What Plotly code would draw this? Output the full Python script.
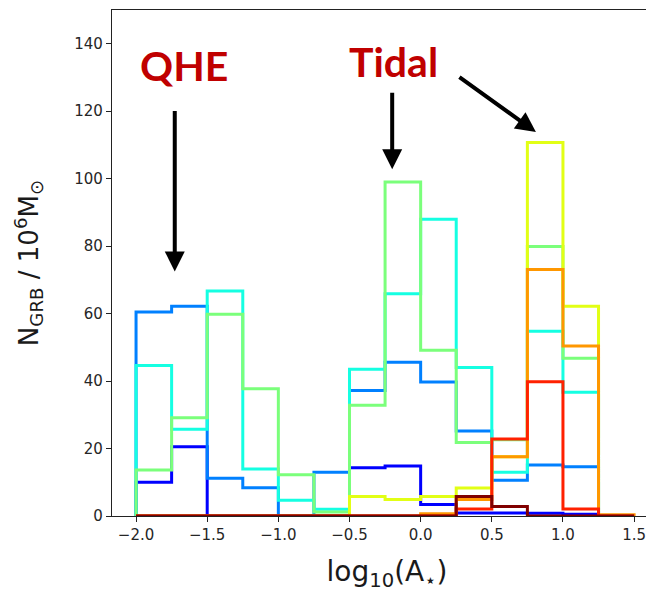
import plotly.graph_objects as go

# bin edges of log10(A*)
edges = [-2.0, -1.75, -1.5, -1.25, -1.0, -0.75, -0.5, -0.25, 0.0, 0.25, 0.5, 0.75, 1.0, 1.25, 1.5]

# counts per bin for each series (N_GRB / 1e6 Msun)
s1_blue   = [10.0, 20.5, 0, 0, 0, 0, 14.3, 14.8, 3.4, 0.9, 0.9, 0.8, 0.5, 0]
s2_dodger = [60.5, 62.2, 11.2, 8.4, 0, 13.0, 37.2, 45.6, 39.7, 25.2, 10.6, 15.1, 14.6, 0]
s3_cyan   = [44.6, 25.7, 66.7, 13.9, 4.7, 2.0, 43.5, 65.9, 88.0, 44.0, 13.0, 54.8, 36.7, 0]
s4_green  = [13.6, 29.1, 59.8, 37.7, 12.2, 1.2, 32.8, 99.0, 49.1, 21.8, 22.6, 79.9, 46.8, 0]
s5_yellow = [0, 0, 0, 0, 0, 0, 5.8, 4.9, 5.8, 8.3, 17.6, 110.7, 62.2, 0]
s6_orange = [0, 0, 0, 0, 0, 0, 0, 0, 0.7, 4.9, 17.6, 73.1, 50.4, 0.4]
s7_red    = [0, 0, 0, 0, 0, 0, 0, 0, 0, 2.1, 22.8, 39.8, 2.1, 0]
s8_darkred = [0, 0, 0, 0, 0, 0, 0, 0, 0, 5.8, 2.8, 0, 0, 0]

series = [s1_blue, s2_dodger, s3_cyan, s4_green, s5_yellow, s6_orange, s7_red, s8_darkred]
colors = ["#0000ff", "#0080ff", "#15ffe2", "#7bff7b", "#e2ff15", "#ff9700", "#ff2100", "#800000"]

x_ticks = [-2.0, -1.5, -1.0, -0.5, 0.0, 0.5, 1.0, 1.5]
y_ticks = [0, 20, 40, 60, 80, 100, 120, 140]

fig = go.Figure()
for counts, col in zip(series, colors):
    xs = [edges[0]] + edges[:-1] + [edges[-1], edges[-1]]
    ys = [0] + counts + [counts[-1], 0]
    fig.add_trace(go.Scatter(x=xs, y=ys, mode="lines", line=dict(color=col, width=3, shape="hv"),
                             showlegend=False, hoverinfo="skip"))

axis_font = dict(family="DejaVu Sans", size=15, color="#262626")
fig.update_layout(
    width=654, height=594,
    margin=dict(l=104, r=0, t=2, b=86),
    plot_bgcolor="white", paper_bgcolor="white",
    xaxis=dict(range=[-2.169, 1.696], tickvals=x_ticks, tickformat=".1f",
               showgrid=False, zeroline=False, showline=True, linecolor="#222", linewidth=1.2,
               mirror=True, ticks="outside", ticklen=5, tickcolor="#222", tickfont=axis_font,
               title=dict(text="log<sub>10</sub>(A<sub>⋆</sub>)",
                          font=dict(family="DejaVu Sans", size=28, color="#1a1a1a"), standoff=18)),
    yaxis=dict(range=[0, 150], tickvals=y_ticks,
               showgrid=False, zeroline=False, showline=True, linecolor="#222", linewidth=1.2,
               ticks="outside", ticklen=5, tickcolor="#222", tickfont=axis_font,
               title=dict(text="N<sub>GRB</sub> / 10<sup>6</sup>M<sub>⊙</sub>",
                          font=dict(family="DejaVu Sans", size=26, color="#1a1a1a"), standoff=28)),
)

label_font = dict(family="Lato", size=41, color="#c00000", weight="bold")
fig.add_annotation(x=-1.66, y=133.6, xref="x", yref="y", text="<b>QHE</b>", showarrow=False, font=label_font)
fig.add_annotation(x=-0.19, y=134.8, xref="x", yref="y", text="<b>Tidal</b>", showarrow=False, font=label_font)

arrow_kw = dict(xref="x", yref="y", text="", showarrow=True, arrowhead=2, arrowsize=1,
                arrowwidth=4, arrowcolor="black")
fig.add_annotation(x=-1.728, y=72.5, ax=0, ay=-162, **arrow_kw)
fig.add_annotation(x=-0.2, y=102.8, ax=0, ay=-78, **arrow_kw)
fig.add_annotation(x=0.81, y=113.8, ax=-78, ay=-56, **arrow_kw)

fig.write_html("out.html")
